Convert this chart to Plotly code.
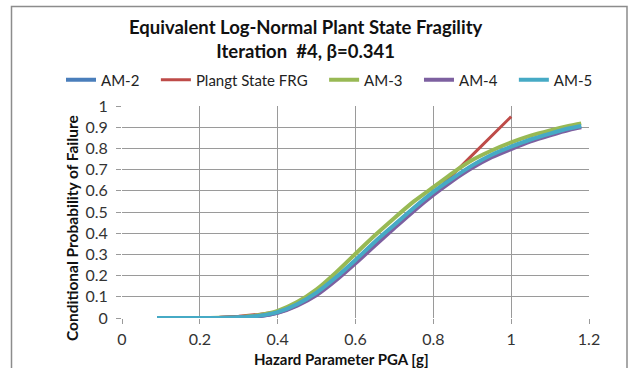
import plotly.graph_objects as go

# ---- data ----
x_am = [0.09, 0.15, 0.2, 0.25, 0.3, 0.35, 0.4, 0.45, 0.5, 0.55, 0.6, 0.65, 0.7,
        0.75, 0.8, 0.85, 0.9, 0.95, 1.0, 1.05, 1.1, 1.15, 1.18]
am2 = [0, 0, 0, 0.0005, 0.003, 0.009, 0.026, 0.062, 0.116, 0.188, 0.27, 0.355, 0.436,
       0.516, 0.59, 0.655, 0.716, 0.766, 0.804, 0.839, 0.868, 0.893, 0.904]
am3 = [0, 0, 0, 0.001, 0.004, 0.013, 0.034, 0.075, 0.135, 0.215, 0.303, 0.39, 0.472,
       0.55, 0.617, 0.685, 0.745, 0.79, 0.828, 0.86, 0.885, 0.907, 0.918]
am4 = [0, 0, 0, 0.0003, 0.002, 0.008, 0.024, 0.058, 0.108, 0.178, 0.258, 0.342, 0.424,
       0.505, 0.58, 0.648, 0.708, 0.758, 0.797, 0.833, 0.862, 0.888, 0.9]
am5 = [0, 0, 0, 0.0005, 0.003, 0.01, 0.028, 0.065, 0.12, 0.192, 0.274, 0.36, 0.44,
       0.52, 0.595, 0.66, 0.72, 0.77, 0.808, 0.842, 0.87, 0.895, 0.906]
x_red = [0.1, 0.2, 0.25, 0.3, 0.35, 0.4, 0.45, 0.5, 0.55, 0.6, 0.65, 0.7, 0.75,
         0.8, 0.9, 1.0]
red = [0, 0.001, 0.003, 0.008, 0.017, 0.03, 0.06, 0.115, 0.19, 0.27, 0.355, 0.44,
       0.51, 0.585, 0.768, 0.95]

FONT = "Lato"
W, H = 632, 368
L, R, T, B = 122, 43, 106, 50
PW, PH = W - L - R, H - T - B
PAD = "\u00a0\u00a0\u00a0"


def px(xp):
    return (xp - L) / PW


def py(yp):
    return (H - B - yp) / PH


fig = go.Figure()
fig.add_trace(go.Scatter(x=x_am, y=am2, name="AM-2" + PAD, mode="lines",
                         line=dict(color="#4A7EBB", width=4, shape="spline", smoothing=0.6)))
fig.add_trace(go.Scatter(x=x_red, y=red, name="Plangt State FRG" + PAD, mode="lines",
                         line=dict(color="#BE4B48", width=3)))
fig.add_trace(go.Scatter(x=x_am, y=am3, name="AM-3" + PAD, mode="lines",
                         line=dict(color="#98B954", width=4, shape="spline", smoothing=0.6)))
fig.add_trace(go.Scatter(x=x_am, y=am4, name="AM-4" + PAD, mode="lines",
                         line=dict(color="#7D60A0", width=4, shape="spline", smoothing=0.6)))
fig.add_trace(go.Scatter(x=x_am, y=am5, name="AM-5", mode="lines",
                         line=dict(color="#46AAC5", width=4, shape="spline", smoothing=0.6)))

grid = "#9a9a9a"
axis_common = dict(showgrid=True, gridcolor=grid, gridwidth=1, zeroline=False,
                   showline=False, ticks="outside", ticklen=5, tickcolor=grid,
                   tickfont=dict(family=FONT, size=16, color="#333333"))

fig.update_xaxes(range=[0, 1.2], dtick=0.2, tick0=0, tickformat="~g",
                 ticklabelstandoff=2, **axis_common)
fig.update_yaxes(range=[0, 1], dtick=0.1, tick0=0, tickformat="~g",
                 ticklabelstandoff=5, **axis_common)

fig.update_layout(
    width=W, height=H,
    margin=dict(l=L, r=R, t=T, b=B),
    paper_bgcolor="white", plot_bgcolor="white",
    showlegend=True,
    legend=dict(orientation="h", x=px(61), xanchor="left", y=py(80), yanchor="middle",
                font=dict(family=FONT, size=15, color="#222222"),
                bgcolor="rgba(0,0,0,0)", itemwidth=30, tracegroupgap=0),
    annotations=[
        dict(text="Equivalent Log-Normal Plant State Fragility<br>Iteration\u00a0\u00a0#4, β=0.341",
             x=px(306), y=py(38.5), xref="paper", yref="paper", showarrow=False,
             xanchor="center", yanchor="middle",
             font=dict(family=FONT, size=18.5, color="#111111", weight="bold")),
        dict(text="Hazard Parameter PGA [g]", x=px(341), y=py(359), xref="paper", yref="paper",
             showarrow=False, xanchor="center", yanchor="middle",
             font=dict(family=FONT, size=15, color="#111111", weight="bold")),
        dict(text="Conditional Probability of Failure", x=px(72), y=py(228), xref="paper",
             yref="paper", showarrow=False, xanchor="center", yanchor="middle", textangle=-90,
             font=dict(family=FONT, size=15.5, color="#111111", weight="bold")),
    ],
    shapes=[dict(type="rect", xref="paper", yref="paper", x0=px(11.5), x1=px(627),
                 y0=py(400), y1=py(6.5), line=dict(color="#8c8c8c", width=1.5),
                 fillcolor="rgba(0,0,0,0)", layer="below")],
)

fig.write_html("out.html")
